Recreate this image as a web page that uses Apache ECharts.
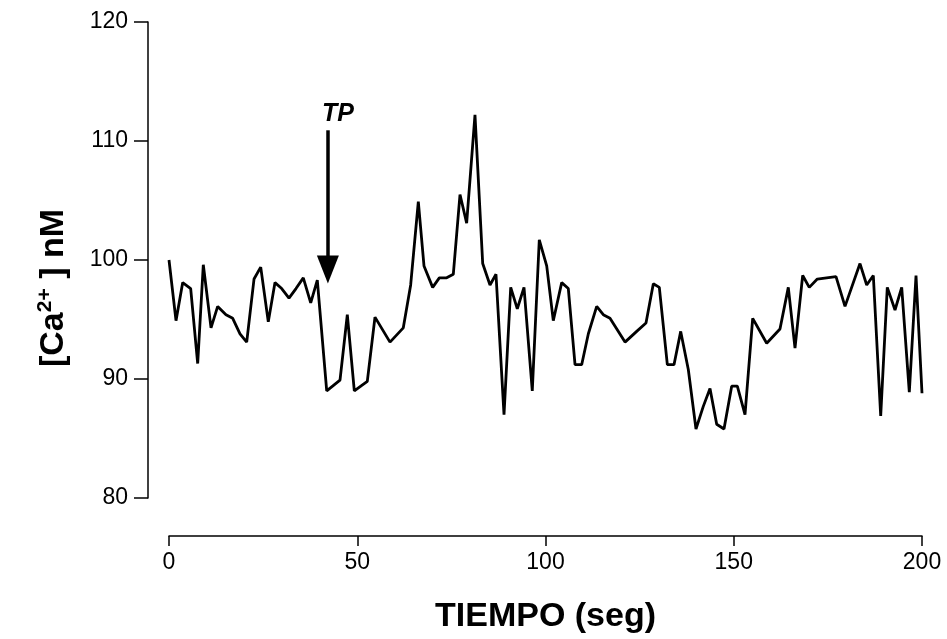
<!DOCTYPE html>
<html>
<head>
<meta charset="utf-8">
<script src="https://cdn.jsdelivr.net/npm/echarts@6/dist/echarts.min.js"></script>
<style>
  html, body { margin: 0; padding: 0; background: #fff; }
  #chart { width: 947px; height: 639px; }
</style>
</head>
<body>
<div id="chart"></div>
<script>
// tiempo (seg) de cada punto del trazo
var tiempo = [
  0, 1.86, 3.64, 5.76, 7.62, 9.11, 11.16, 12.93, 15.14, 16.92, 18.86, 20.64, 22.58, 24.36,
  26.37, 28.15, 29.93, 31.87, 33.73, 35.67, 37.64, 39.39, 41.89, 45.42, 47.36, 49.22,
  52.67, 54.71, 58.70, 62.23, 64.19, 66.22, 67.73, 70.03, 71.80, 73.75, 75.51, 77.29,
  79.06, 81.27, 83.32, 85.26, 86.85, 88.98, 90.76, 92.51, 94.29, 96.49, 98.35,
  100.32, 102.07, 104.30, 106.06, 107.84, 109.61, 111.38, 113.60, 115.35, 117.13,
  121.12, 124.22, 126.69, 128.64, 130.23, 132.36, 134.13, 135.91, 137.93, 139.97,
  141.91, 143.69, 145.47, 147.41, 149.45, 150.95, 152.99, 155.03, 158.75, 162.28,
  164.49, 166.27, 168.31, 170.06, 172.19, 177.16, 179.55, 183.53, 185.31, 187.07,
  189.03, 190.78, 192.83, 194.61, 196.63, 198.41, 200
];
// [Ca2+] nM
var calcio = [
  100, 94.9, 98.1, 97.6, 91.3, 99.6, 94.3, 96.1, 95.4, 95.1, 93.8, 93.1, 98.4, 99.4,
  94.8, 98.1, 97.6, 96.8, 97.6, 98.5, 96.4, 98.3, 89.0, 89.9, 95.4, 89.0,
  89.8, 95.2, 93.1, 94.3, 97.9, 104.9, 99.5, 97.7, 98.5, 98.5, 98.8, 105.5,
  103.1, 112.2, 99.7, 97.9, 98.8, 87.0, 97.7, 95.9, 97.7, 89.0, 101.7,
  99.5, 94.9, 98.1, 97.6, 91.2, 91.2, 93.8, 96.1, 95.4, 95.1,
  93.1, 94.0, 94.7, 98.0, 97.7, 91.2, 91.2, 94.0, 90.8, 85.8,
  87.7, 89.2, 86.2, 85.8, 89.4, 89.4, 87.0, 95.1, 93.0, 94.2,
  97.7, 92.6, 98.7, 97.7, 98.4, 98.6, 96.1, 99.7, 97.9, 98.7,
  86.9, 97.7, 95.8, 97.7, 88.9, 98.7, 88.8
];
var yTicks = [80, 90, 100, 110, 120];
var xTicks = [0, 50, 100, 150, 200];
// flecha TP
var tpTiempo = 42.2;
var tpDesde = 110.9;
var tpHasta = 99.2;

var puntos = tiempo.map(function (t, i) { return [t, calcio[i]]; });

var chart = echarts.init(document.getElementById('chart'));
var fuente = '"Liberation Sans", Arial, Helvetica, sans-serif';

chart.setOption({
  backgroundColor: '#fff',
  animation: false,
  grid: { left: 169, right: 25, top: 22, bottom: 136 },
  xAxis: {
    type: 'value',
    min: xTicks[0],
    max: xTicks[xTicks.length - 1],
    interval: 50,
    offset: 38,
    name: 'TIEMPO (seg)',
    nameLocation: 'middle',
    nameGap: 64,
    nameMoveOverlap: false,
    nameTextStyle: { color: '#000', fontSize: 34, fontWeight: 'bold', fontFamily: fuente },
    axisLine: { onZero: false, lineStyle: { color: '#000', width: 1.5 } },
    axisTick: { length: 10, lineStyle: { color: '#000', width: 1.5 } },
    axisLabel: { color: '#000', fontSize: 23, margin: 15, fontFamily: fuente },
    splitLine: { show: false }
  },
  yAxis: {
    type: 'value',
    min: yTicks[0],
    max: yTicks[yTicks.length - 1],
    interval: 10,
    offset: 21,
    name: '[Ca{sup|2+} ] nM',
    nameLocation: 'middle',
    nameGap: 76,
    nameMoveOverlap: false,
    nameTextStyle: {
      color: '#000', fontSize: 34, fontWeight: 'bold', fontFamily: fuente,
      padding: [0, 56, 0, 0],
      rich: {
        sup: { fontSize: 21, fontWeight: 'bold', color: '#000', fontFamily: fuente, padding: [0, 0, 16, 0] }
      }
    },
    axisLine: { show: true, onZero: false, lineStyle: { color: '#000', width: 1.5 } },
    axisTick: { show: true, length: 14, lineStyle: { color: '#000', width: 1.5 } },
    axisLabel: { color: '#000', fontSize: 23, margin: 20, fontFamily: fuente },
    splitLine: { show: false }
  },
  series: [{
    type: 'line',
    data: puntos,
    symbol: 'none',
    lineStyle: { color: '#000', width: 2.8 },
    markLine: {
      silent: true,
      symbol: ['none', 'triangle'],
      symbolSize: [22, 28],
      lineStyle: { color: '#000', width: 3.5, type: 'solid' },
      label: {
        show: true,
        position: 'start',
        distance: 4,
        padding: [0, 0, 0, 20],
        formatter: 'TP',
        color: '#000',
        fontSize: 25,
        fontWeight: 'bold',
        fontStyle: 'italic',
        fontFamily: fuente
      },
      data: [[{ coord: [tpTiempo, tpDesde] }, { coord: [tpTiempo, tpHasta] }]]
    }
  }]
});
</script>
</body>
</html>
